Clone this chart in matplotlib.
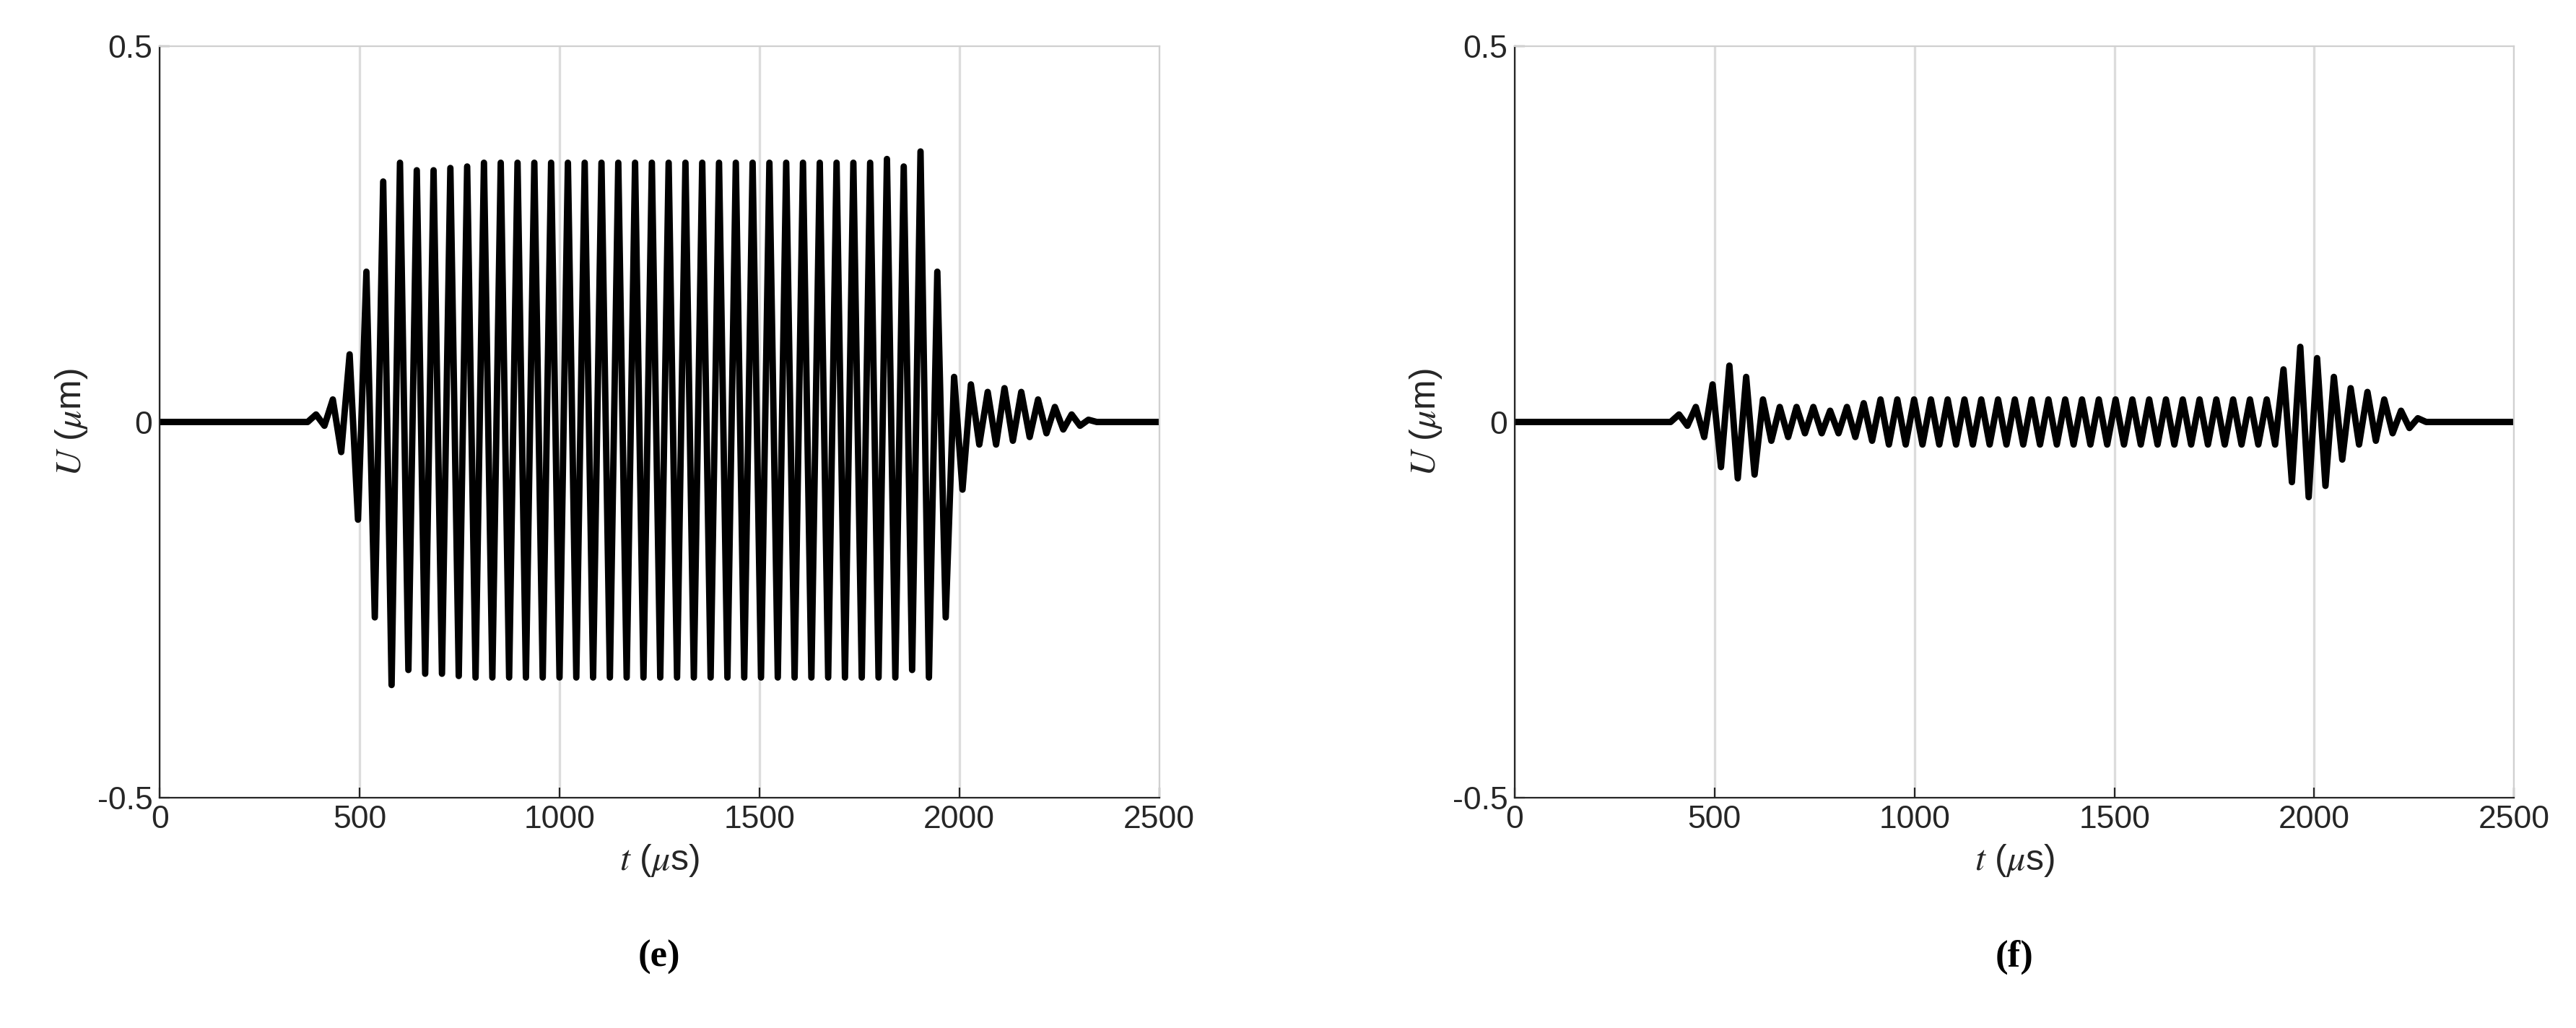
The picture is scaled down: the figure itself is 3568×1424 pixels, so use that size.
import numpy as np
import matplotlib.pyplot as plt
from matplotlib import rcParams

rcParams["font.family"] = "Liberation Sans"
rcParams["mathtext.fontset"] = "stix"

# extrema of the signal (half-cycle spacing)
half_period = 21.0
e_start = 370.0
e_extrema = [0.0, 0.01, -0.005, 0.03, -0.04, 0.09, -0.13, 0.2, -0.26, 0.32, -0.35, 0.345, -0.33,
             0.335, -0.335, 0.335, -0.335, 0.338, -0.338, 0.34, -0.34, 0.345, -0.34, 0.345, -0.34,
             0.345, -0.34, 0.345, -0.34, 0.345, -0.34, 0.345, -0.34, 0.345, -0.34, 0.345, -0.34,
             0.345, -0.34, 0.345, -0.34, 0.345, -0.34, 0.345, -0.34, 0.345, -0.34, 0.345, -0.34,
             0.345, -0.34, 0.345, -0.34, 0.345, -0.34, 0.345, -0.34, 0.345, -0.34, 0.345, -0.34,
             0.345, -0.34, 0.345, -0.34, 0.345, -0.34, 0.345, -0.34, 0.35, -0.34, 0.34, -0.33,
             0.36, -0.34, 0.2, -0.26, 0.06, -0.09, 0.05, -0.03, 0.04, -0.03, 0.045, -0.025,
             0.04, -0.02, 0.03, -0.015, 0.02, -0.01, 0.01, -0.005, 0.003, 0.0]
f_start = 390.0
f_extrema = [0.0, 0.01, -0.005, 0.02, -0.02, 0.05, -0.06, 0.075, -0.075, 0.06, -0.07, 0.03, -0.025,
             0.02, -0.02, 0.02, -0.015, 0.02, -0.015, 0.015, -0.015, 0.02, -0.02, 0.025, -0.025,
             0.03, -0.03, 0.03, -0.03, 0.03, -0.03, 0.03, -0.03, 0.03, -0.03, 0.03, -0.03,
             0.03, -0.03, 0.03, -0.03, 0.03, -0.03, 0.03, -0.03, 0.03, -0.03, 0.03, -0.03,
             0.03, -0.03, 0.03, -0.03, 0.03, -0.03, 0.03, -0.03, 0.03, -0.03, 0.03, -0.03,
             0.03, -0.03, 0.03, -0.03, 0.03, -0.03, 0.03, -0.03, 0.03, -0.03, 0.03, -0.03,
             0.07, -0.08, 0.1, -0.1, 0.085, -0.085, 0.06, -0.05, 0.045, -0.03, 0.04, -0.025,
             0.03, -0.015, 0.015, -0.008, 0.005, 0.0]
panel_labels = ["e", "f"]

fig = plt.figure(figsize=(17.84, 7.12), dpi=200)
for k, (start, ext) in enumerate([(e_start, e_extrema), (f_start, f_extrema)]):
    ax = fig.add_axes([0.062 + k * 0.526, 0.224, 0.388, 0.731])
    t = np.concatenate([[0], start + half_period * np.arange(len(ext)), [2500]])
    u = np.concatenate([[0], ext, [0]])
    ax.plot(t, u, color="black", lw=3.2, solid_joinstyle="round")
    ax.set_xlim(0, 2500)
    ax.set_ylim(-0.5, 0.5)
    ax.set_xticks([0, 500, 1000, 1500, 2000, 2500])
    ax.set_yticks([-0.5, 0, 0.5])
    ax.set_yticklabels(["-0.5", "0", "0.5"])
    ax.grid(axis="x", color="#dcdcdc", lw=1.2)
    ax.set_axisbelow(True)
    ax.tick_params(direction="in", labelsize=16, length=5, color="#262626", labelcolor="#262626")
    for s in ax.spines.values():
        s.set_color("#262626")
    for s in ("top", "right"):
        ax.spines[s].set_color("#d0d0d0")
    ax.tick_params(top=False, right=False)
    ax.set_xlabel(r"$t$ ($\mu$s)", fontsize=18, color="#262626")
    ax.set_ylabel(r"$U$ ($\mu$m)", fontsize=18, color="#262626")
    fig.text(0.062 + k * 0.526 + 0.194, 0.06, "(" + panel_labels[k] + ")", ha="center",
             fontsize=19, fontweight="bold", family="Liberation Serif")

fig.savefig("out.png", dpi=200)
